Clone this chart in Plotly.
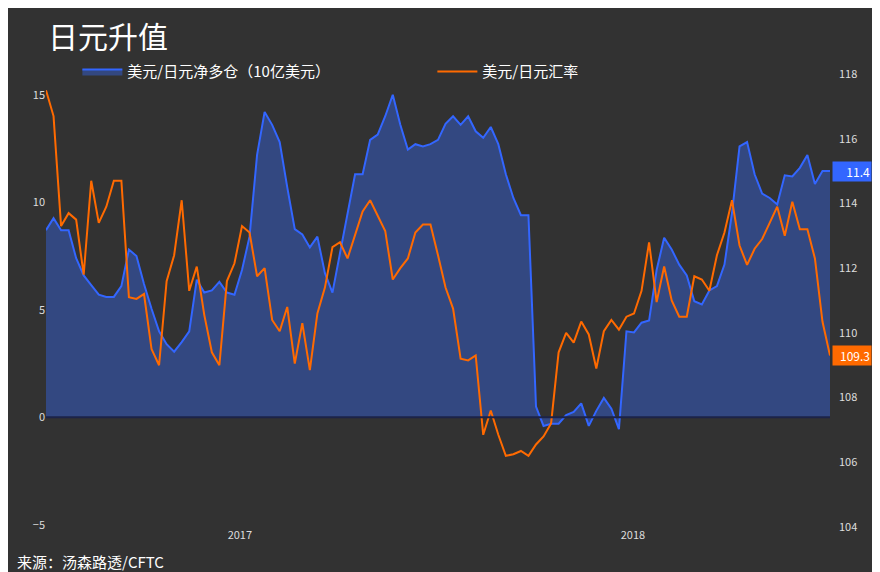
import pandas as pd
import plotly.graph_objects as go

dates = pd.date_range("2016-07-05", periods=105, freq="7D")

net_long = [
    8.7, 9.26, 8.7, 8.7, 7.4, 6.6, 6.15, 5.7, 5.6, 5.6, 6.1, 7.8, 7.5, 6.2, 5.05, 4.0, 3.4, 3.05,
    3.5, 4.0, 6.4, 5.8, 5.9, 6.3, 5.8, 5.7, 6.85, 8.4, 12.2, 14.2, 13.6, 12.8, 10.7, 8.75, 8.5,
    7.9, 8.4, 6.7, 5.8, 7.6, 9.4, 11.3, 11.3, 12.9, 13.15, 14.0, 15.0, 13.6, 12.45, 12.7, 12.6,
    12.7, 12.9,
    13.65, 14.0, 13.6, 14.0, 13.3, 13.0, 13.5, 12.7, 11.3, 10.2, 9.4, 9.4, 0.5, -0.4, -0.3, -0.3,
    0.1, 0.25, 0.65, -0.4, 0.3, 0.9, 0.4, -0.55, 4.0, 3.95, 4.4, 4.5, 6.85, 8.35, 7.8, 7.1, 6.6,
    5.4, 5.25, 5.9, 6.1, 7.1, 9.5, 12.6, 12.8, 11.3, 10.4, 10.2, 9.9, 11.25, 11.2, 11.6, 12.2,
    10.85, 11.45, 11.45,
]

usdjpy = [
    117.5, 116.7, 113.3, 113.7, 113.5, 111.8, 114.7, 113.4, 113.9, 114.7, 114.7, 111.1, 111.05,
    111.2, 109.5, 109.0, 111.6, 112.4, 114.1, 111.3, 112.05, 110.55, 109.4, 109.0, 111.6, 112.15,
    113.3, 113.1, 111.75, 112.0, 110.4, 110.05, 110.8, 109.05, 110.3, 108.85, 110.6, 111.4,
    112.65, 112.8, 112.3, 113.0, 113.75, 114.1, 113.6, 113.15, 111.65, 112.0, 112.3, 113.1,
    113.35, 113.35, 112.4, 111.4,
    110.75, 109.2, 109.15, 109.3, 106.85, 107.6, 106.85, 106.2, 106.25, 106.35, 106.2, 106.55,
    106.8, 107.2, 109.4, 110.0, 109.7, 110.35, 109.95, 108.9, 110.05, 110.4, 110.1, 110.5, 110.6,
    111.3, 112.8, 110.95, 112.05, 111.0, 110.5, 110.5, 111.75, 111.65, 111.3, 112.4, 113.1,
    114.1, 112.7, 112.1, 112.6, 112.9, 113.4, 113.9, 113.0, 114.05, 113.2, 113.2, 112.3, 110.35,
    109.3,
]

bg = "#323232"
blue = "#3366ff"
orange = "#ff6a00"
font = "Noto Sans CJK SC"

fig = go.Figure()
fig.add_trace(go.Scatter(
    x=dates, y=net_long, name="美元/日元净多仓（10亿美元）",
    mode="lines", line=dict(color=blue, width=2),
    fill="tozeroy", fillcolor="rgba(52,74,134,0.95)",
))
fig.add_trace(go.Scatter(
    x=dates, y=usdjpy, name="美元/日元汇率", yaxis="y2",
    mode="lines", line=dict(color=orange, width=2),
))

fig.add_shape(type="line", xref="x", yref="y", x0=dates[0], x1=dates[-1], y0=0, y1=0,
              line=dict(color="#1c2348", width=2))

for val, yref, col in [(net_long[-1], "y", blue), (usdjpy[-1], "y2", orange)]:
    fig.add_annotation(x=1.003, xref="paper", y=val, yref=yref, text=f"{val:.1f}",
                       showarrow=False, xanchor="left", bgcolor=col, width=36, align="right",
                       font=dict(color="white", size=12, family=font))

fig.add_annotation(x=0.0, y=1.0, xref="paper", yref="paper", text="日元升值",
                   showarrow=False, xanchor="left", yanchor="bottom", yshift=-6,
                   font=dict(color="white", size=30, family=font))
fig.add_annotation(x=-0.04, y=0.0, xref="paper", yref="paper", text="来源：汤森路透/CFTC",
                   showarrow=False, xanchor="left", yanchor="top", yshift=-22,
                   font=dict(color="white", size=15, family=font))

fig.update_layout(
    width=880, height=572,
    paper_bgcolor=bg, plot_bgcolor=bg,
    margin=dict(l=38, r=58, t=45, b=53),
    font=dict(family=font, color="#dddddd", size=12),
    showlegend=True,
    legend=dict(orientation="h", x=0.04, y=0.995, xanchor="left", yanchor="top",
                font=dict(size=15, color="white"), bgcolor="rgba(0,0,0,0)",
                entrywidth=300, entrywidthmode="pixels", itemwidth=40),
    xaxis=dict(range=[dates[0], dates[-1]], showgrid=False, zeroline=False,
               tickvals=["2017-01-01", "2018-01-01"], ticktext=["2017", "2018"],
               tickfont=dict(size=11, color="#dddddd")),
    yaxis=dict(range=[-5.1, 16.94], showgrid=False, zeroline=False,
               tickvals=[-5, 0, 5, 10, 15], tickfont=dict(size=11, color="#dddddd")),
    yaxis2=dict(range=[104, 118.65], overlaying="y", side="right", showgrid=False,
                zeroline=False, tickvals=list(range(104, 119, 2)),
                tickfont=dict(size=11, color="#dddddd"), ticklabelstandoff=8),
)

fig.write_html("out.html")
